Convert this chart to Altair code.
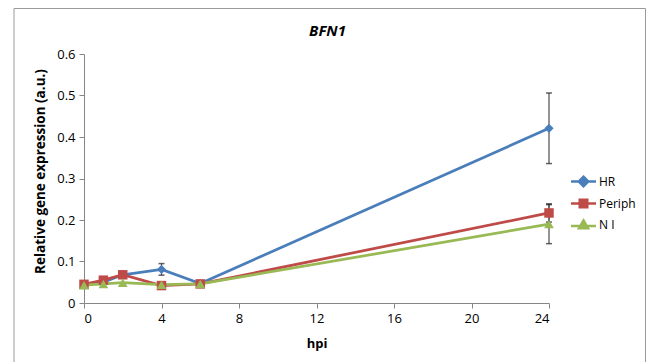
import altair as alt
import pandas as pd

# ---- data ----
hours = [0, 1, 2, 4, 6, 24]
series_names = ["HR", "Periph", "N I"]
hr = [0.044, 0.050, 0.068, 0.081, 0.047, 0.421]
periph = [0.045, 0.055, 0.068, 0.042, 0.046, 0.217]
ni = [0.043, 0.046, 0.049, 0.044, 0.046, 0.190]
hr_err = [0, 0, 0, 0.014, 0, 0.085]
periph_err = [0, 0, 0, 0, 0, 0.022]
ni_err = [0, 0, 0, 0, 0, 0.047]
x_ticks = [0, 4, 8, 12, 16, 20, 24]
y_ticks = [0, 0.1, 0.2, 0.3, 0.4, 0.5, 0.6]

colors = ["#4A7EBB", "#BE4B48", "#98B954"]
marker_shapes = ["diamond", "square", "triangle-up"]
# legend symbols: a line with the marker drawn on it (concentric strokes fill the marker)
legend_shapes = [
    "M-2.5,0L2.5,0M0,-0.95L0.95,0L0,0.95L-0.95,0ZM0,-0.5L0.5,0L0,0.5L-0.5,0ZM0,-0.1L0.1,0L0,0.1L-0.1,0Z",
    "M-2.5,0L2.5,0M-0.75,-0.75L0.75,-0.75L0.75,0.75L-0.75,0.75ZM-0.35,-0.35L0.35,-0.35L0.35,0.35L-0.35,0.35ZM-0.05,-0.05L0.05,-0.05L0.05,0.05L-0.05,0.05Z",
    "M-2.5,0.3L2.5,0.3M0,-0.8L0.9,0.75L-0.9,0.75ZM0,-0.3L0.45,0.45L-0.45,0.45ZM0,0.05L0.1,0.2L-0.1,0.2Z",
]

rows = []
for name, vals, errs, order in [("HR", hr, hr_err, 0), ("Periph", periph, periph_err, 1), ("N I", ni, ni_err, 2)]:
    for h, v, e in zip(hours, vals, errs):
        rows.append({"hpi": h, "value": v, "err": e, "lo": v - e, "hi": v + e,
                     "series": name, "order": order})
df = pd.DataFrame(rows)

FONT = "Open Sans"
AXIS_STYLE = dict(grid=False, domainColor="#868686", tickColor="#868686", tickSize=5,
                  labelFont=FONT, labelFontSize=13, labelColor="#000000", titleColor="#000000",
                  titleFont=FONT, titleFontWeight="bold")

x_enc = alt.X("hpi:Q", scale=alt.Scale(domain=[0, 24], nice=False, zero=True),
              axis=alt.Axis(values=x_ticks, title="hpi", titleFontSize=13, titleY=40,
                            titleBaseline="middle", labelPadding=4, **AXIS_STYLE))
y_enc = alt.Y("value:Q", scale=alt.Scale(domain=[0, 0.6], nice=False),
              axis=alt.Axis(values=y_ticks,
                            labelExpr="datum.value == 0 ? '0' : format(datum.value, '.1f')",
                            title="Relative gene expression  (a.u.)",
                            titleFontSize=13.5, titleX=-44, titleY=117,
                            titleAngle=-90, titleAlign="center", titleBaseline="middle",
                            labelPadding=4, **AXIS_STYLE))

color_scale = alt.Scale(domain=series_names, range=colors)

base = alt.Chart(df)

err_data = base.transform_filter("datum.err > 0")
err_rule = err_data.mark_rule(color="#5a5a5a", strokeWidth=1.3).encode(
    x="hpi:Q", y=alt.Y("lo:Q"), y2="hi:Q")
cap_lo = err_data.mark_tick(color="#222222", thickness=1.5, size=6, orient="horizontal").encode(
    x="hpi:Q", y="lo:Q")
cap_hi = err_data.mark_tick(color="#222222", thickness=1.5, size=6, orient="horizontal").encode(
    x="hpi:Q", y="hi:Q")

lines = base.mark_line(strokeWidth=2.75).encode(
    x=x_enc, y=y_enc,
    color=alt.Color("series:N", scale=color_scale, legend=None),
    detail="series:N", order="hpi:Q")

points = base.mark_point(filled=True, opacity=1).encode(
    x="hpi:Q", y="value:Q",
    color=alt.Color("series:N", scale=color_scale, legend=None),
    shape=alt.Shape("series:N", scale=alt.Scale(domain=series_names, range=marker_shapes), legend=None),
    size=alt.Size("series:N", scale=alt.Scale(domain=series_names, range=[85, 95, 110]), legend=None),
    order="order:Q")

leg = dict(title=None, orient="none", legendX=493, legendY=121,
           symbolSize=100, symbolStrokeWidth=2.5, symbolOpacity=1,
           labelFont=FONT, labelFontSize=12, labelColor="#000000",
           labelOffset=9, rowPadding=2, padding=0)

legend_layer = base.mark_point(filled=False, opacity=0, strokeWidth=2.5).encode(
    x="hpi:Q", y="value:Q",
    color=alt.Color("series:N", scale=color_scale, legend=alt.Legend(**leg)),
    shape=alt.Shape("series:N", scale=alt.Scale(domain=series_names, range=legend_shapes),
                    legend=alt.Legend(**leg)))

frame = alt.Chart(pd.DataFrame({"k": [0]})).mark_rect(fillOpacity=0, stroke="#9a9a9a", strokeWidth=1).encode(
    x=alt.value(-70), x2=alt.value(561.5), y=alt.value(-45.5), y2=alt.value(330))

chart = alt.layer(frame, err_rule, cap_lo, cap_hi, lines, points, legend_layer).resolve_scale(
    color="independent", shape="independent", size="independent"
).properties(
    width=465, height=249,
    title=alt.TitleParams("BFN1", font=FONT, fontSize=15, fontWeight="bold", fontStyle="italic",
                          anchor="middle", frame="group", dx=11, offset=0, dy=43,
                          baseline="alphabetic", color="#000000"),
    autosize=alt.AutoSizeParams(type="none"),
    padding={"left": 84, "top": 54, "right": 100, "bottom": 59},
).configure(background="#ffffff").configure_view(stroke=None)

chart.save("out.html", embed_options={"renderer": "svg", "actions": False})
